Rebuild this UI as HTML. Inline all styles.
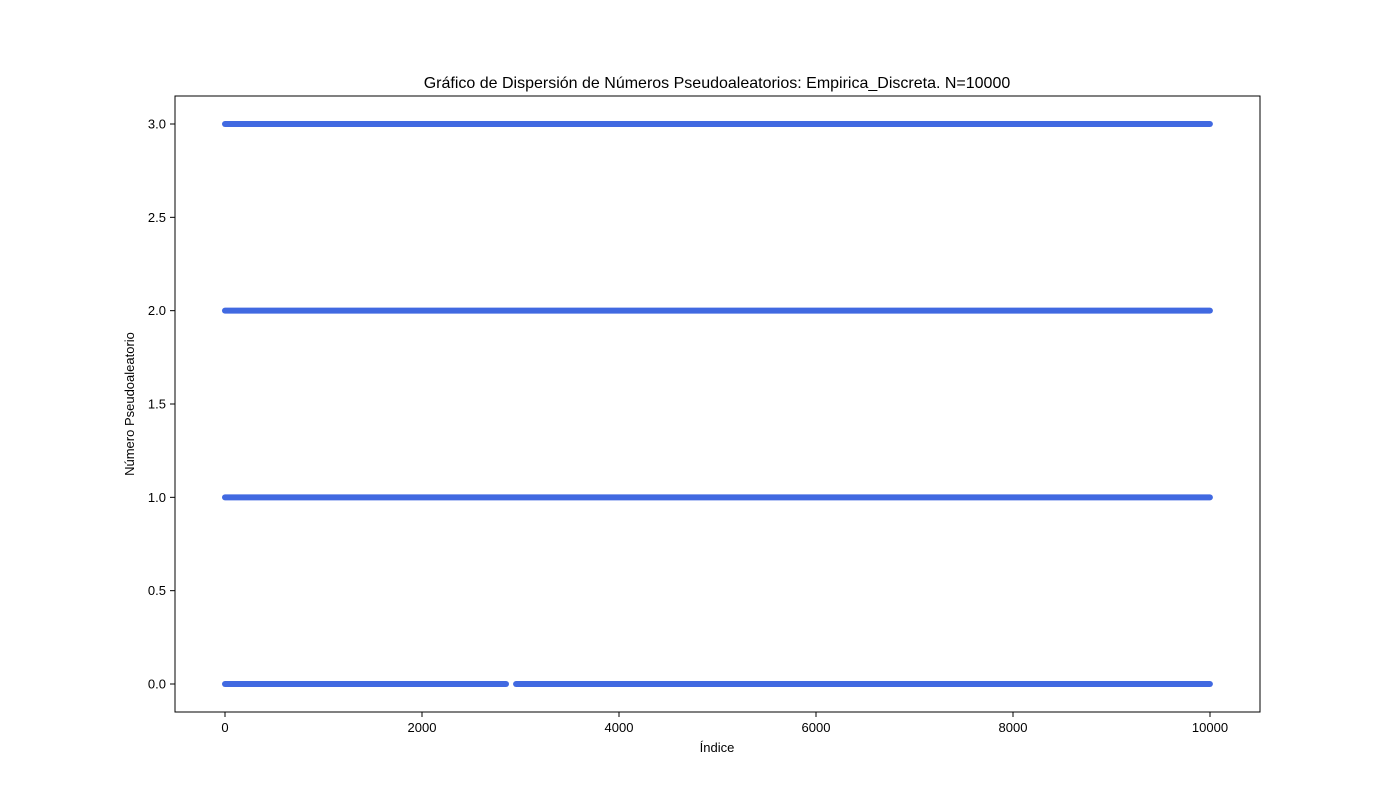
<!DOCTYPE html>
<html><head><meta charset="utf-8"><style>
html,body{margin:0;padding:0;background:#fff;}
svg{display:block;font-family:"Liberation Sans","DejaVu Sans",sans-serif;}
</style></head><body>
<svg id="chart" width="1400" height="800">
<rect width="1400" height="800" fill="#fff"/>
<g id="marks"></g>
<rect x="175" y="96" width="1085" height="616" fill="none" stroke="#000" stroke-width="1"/>
<g id="xticks"></g>
<g id="yticks"></g>
<text x="717" y="88" text-anchor="middle" font-size="16">Gráfico de Dispersión de Números Pseudoaleatorios: Empirica_Discreta. N=10000</text>
<text x="717" y="752" text-anchor="middle" font-size="13">Índice</text>
<text x="134" y="404" text-anchor="middle" font-size="13" transform="rotate(-90 134 404)">Número Pseudoaleatorio</text>
</svg>
<script>
const levels = [0, 1, 2, 3];
const runsStart = [[0, 2955], [0], [0], [0]];
const runsEnd = [[2853, 9999], [9999], [9999], [9999]];
const xTicks = [0, 2000, 4000, 6000, 8000, 10000];
const yTicks = [0.0, 0.5, 1.0, 1.5, 2.0, 2.5, 3.0];

const NS = "http://www.w3.org/2000/svg";
const xs = v => 225 + v * (1210 - 225) / 10000;
const ys = v => 684 - v * (684 - 124) / 3;

const marks = document.getElementById('marks');
levels.forEach((lv, i) => {
  runsStart[i].forEach((s, j) => {
    const l = document.createElementNS(NS, 'line');
    l.setAttribute('x1', xs(s)); l.setAttribute('x2', xs(runsEnd[i][j]));
    l.setAttribute('y1', ys(lv)); l.setAttribute('y2', ys(lv));
    l.setAttribute('stroke', '#4169e1'); l.setAttribute('stroke-width', '6');
    l.setAttribute('stroke-linecap', 'round');
    
    
    marks.appendChild(l);
  });
});

const xg = document.getElementById('xticks');
xTicks.forEach(t => {
  const l = document.createElementNS(NS, 'line');
  l.setAttribute('x1', xs(t)); l.setAttribute('x2', xs(t));
  l.setAttribute('y1', 712); l.setAttribute('y2', 717);
  l.setAttribute('stroke', '#000');
  
  
  xg.appendChild(l);
  const tx = document.createElementNS(NS, 'text');
  tx.setAttribute('x', xs(t)); tx.setAttribute('y', 732);
  tx.setAttribute('text-anchor', 'middle'); tx.setAttribute('font-size', '13');
  tx.textContent = t;
  
  
  xg.appendChild(tx);
});

const yg = document.getElementById('yticks');
yTicks.forEach(t => {
  const l = document.createElementNS(NS, 'line');
  l.setAttribute('x1', 170); l.setAttribute('x2', 175);
  l.setAttribute('y1', ys(t)); l.setAttribute('y2', ys(t));
  l.setAttribute('stroke', '#000');
  
  
  yg.appendChild(l);
  const tx = document.createElementNS(NS, 'text');
  tx.setAttribute('x', 166); tx.setAttribute('y', ys(t) + 4.5);
  tx.setAttribute('text-anchor', 'end'); tx.setAttribute('font-size', '13');
  tx.textContent = t.toFixed(1);
  
  
  yg.appendChild(tx);
});
</script>
</body></html>
